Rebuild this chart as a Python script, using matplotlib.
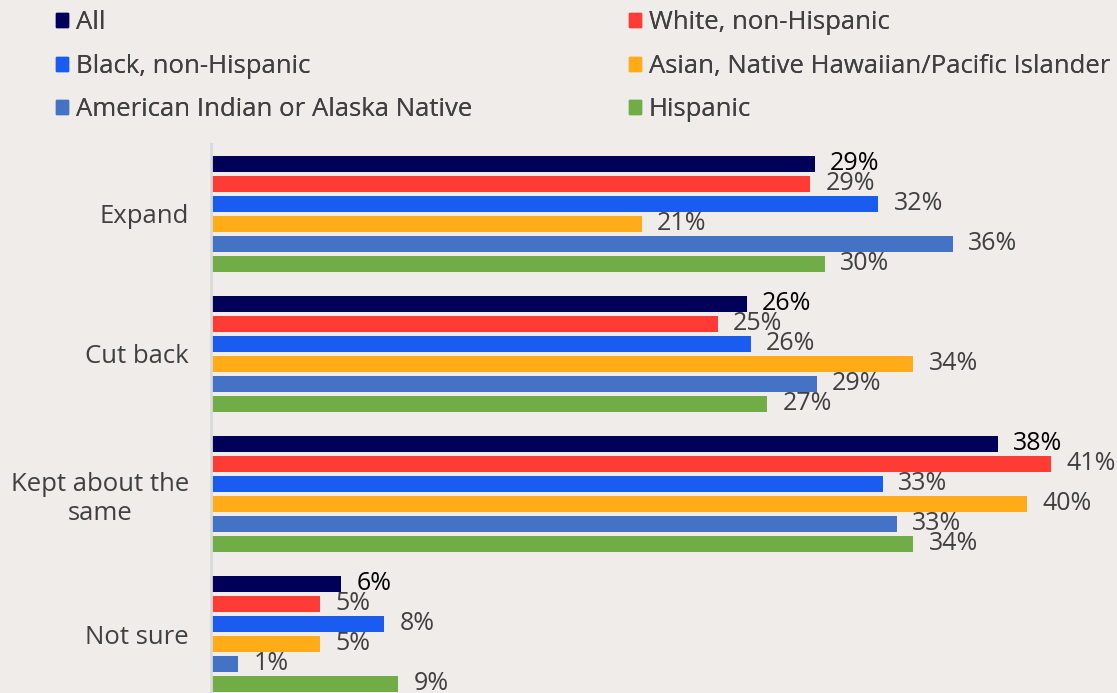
import matplotlib.pyplot as plt
from matplotlib.patches import Patch

categories = ['Expand', 'Cut back', 'Kept about the\nsame', 'Not sure']
groups = ['All', 'White, non-Hispanic', 'Black, non-Hispanic',
          'Asian, Native Hawaiian/Pacific Islander',
          'American Indian or Alaska Native', 'Hispanic']
colors = ['#000058', '#ff3b36', '#1a5cf0', '#ffac18', '#4472c4', '#70ad47']

# share of respondents (%), one list per group, in category order
all_resp = [29.3, 26.0, 38.2, 6.3]
white = [29.1, 24.6, 40.8, 5.3]
black = [32.4, 26.2, 32.6, 8.4]
asian = [20.9, 34.1, 39.6, 5.3]
aian = [36.0, 29.4, 33.3, 1.3]
hispanic = [29.8, 27.0, 34.1, 9.1]
series = [all_resp, white, black, asian, aian, hispanic]

bg = '#efecea'
txt = '#404040'
plt.rcParams['font.family'] = ['Open Sans', 'DejaVu Sans']

fig = plt.figure(figsize=(11.17, 6.93), dpi=100, facecolor=bg)
ax = fig.add_axes([211 / 1117, 0, 1 - 211 / 1117, 1 - 144 / 693])
ax.set_facecolor(bg)

for i, vals in enumerate(series):
    ys = [7 * g + i for g in range(len(categories))]
    ax.barh(ys, vals, height=0.8, color=colors[i], zorder=2)
    for y, v in zip(ys, vals):
        ax.text(v + 0.75, y, f'{round(v)}%', va='center', ha='left',
                fontsize=18, color='black' if i == 0 else txt)

ax.set_xlim(0, (1117 - 211) / 20.6)
ax.set_ylim(26.45, -1.0)
ax.set_yticks([7 * g + 2.5 for g in range(len(categories))])
ax.set_yticklabels(categories, fontsize=18.5, color=txt, ha='right',
                   multialignment='center')
ax.tick_params(axis='y', length=0, pad=16)
ax.set_xticks([])
for s in ['top', 'right', 'bottom']:
    ax.spines[s].set_visible(False)
ax.spines['left'].set_color('#d9d9d9')
ax.spines['left'].set_linewidth(2)

handles = [Patch(color=c) for c in colors]
for col, x in [(0, 45.6 / 1117), (1, 618.6 / 1117)]:
    idx = [col, col + 2, col + 4]
    leg = fig.legend([handles[k] for k in idx], [groups[k] for k in idx],
                     loc='upper left', bbox_to_anchor=(x, 1.0),
                     frameon=False, fontsize=18.5, labelcolor=txt,
                     handlelength=0.47, handleheight=0.47,
                     handletextpad=0.31, labelspacing=0.72,
                     borderaxespad=0)
    fig.add_artist(leg)

fig.savefig('out.png', dpi=100, facecolor=bg)
